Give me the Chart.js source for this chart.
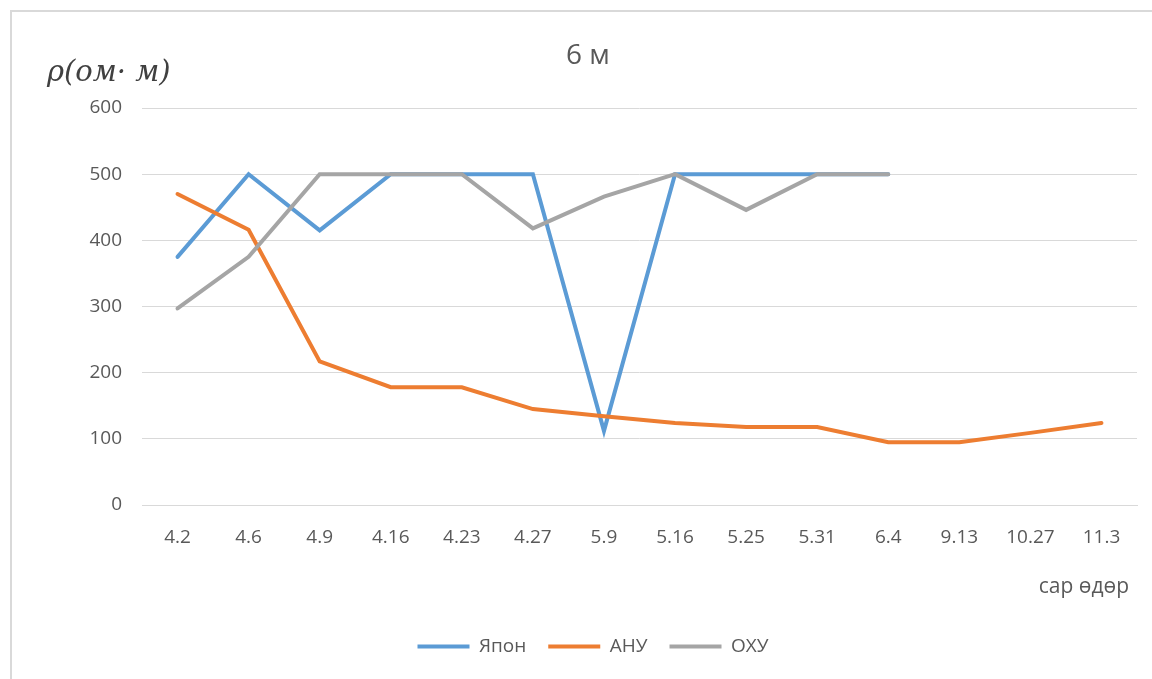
<!DOCTYPE html>
<html>
<head>
<meta charset="utf-8">
<script src="https://cdn.jsdelivr.net/npm/chart.js@4"></script>
<style>
  html, body { margin: 0; padding: 0; background: #ffffff; }
  #wrap { width: 1152px; height: 679px; position: relative; }
</style>
</head>
<body>
<div id="wrap"><canvas id="c" width="1152" height="679"></canvas></div>
<script>
const categories = ["4.2", "4.6", "4.9", "4.16", "4.23", "4.27", "5.9", "5.16", "5.25", "5.31", "6.4", "9.13", "10.27", "11.3"];
const japan = [375, 500, 415, 500, 500, 500, 112, 500, 500, 500, 500, null, null, null];
const usa = [470, 416, 217, 178, 178, 145, 134, 124, 118, 118, 95, 95, 109, 124];
const russia = [297, 375, 500, 500, 500, 418, 466, 500, 446, 500, 500, null, null, null];
const seriesNames = ["Япон", "АНУ", "ОХУ"];
const yTicks = [0, 100, 200, 300, 400, 500, 600];
const chartTitle = "6 м";
const yTitle = "ρ(ом· м)";
const xTitle = "сар өдөр";

const FONT = "'Open Sans', Lato, sans-serif";
const TXT = "#595959";
const GRID = "#d9d9d9";

const framePlugin = {
  id: "frame",
  beforeDraw(chart) {
    const ctx = chart.ctx;
    ctx.save();
    ctx.strokeStyle = GRID;
    ctx.lineWidth = 2;
    ctx.beginPath();
    ctx.moveTo(11, 679);
    ctx.lineTo(11, 11);
    ctx.lineTo(1152, 11);
    ctx.stroke();
    ctx.restore();
  },
  afterDraw(chart) {
    const ctx = chart.ctx;
    ctx.save();
    ctx.fillStyle = TXT;
    ctx.font = "28px " + FONT;
    ctx.textAlign = "center";
    ctx.textBaseline = "middle";
    ctx.fillText(chartTitle, 588, 56);
    ctx.font = "21px " + FONT;
    ctx.textAlign = "right";
    ctx.fillText(xTitle, 1129, 587);
    ctx.fillStyle = "#404040";
    ctx.font = "italic 29px 'DejaVu Serif', 'Liberation Serif', serif";
    ctx.textAlign = "left";
    ctx.textBaseline = "alphabetic";
    ctx.fillText(yTitle, 47, 81);
    ctx.restore();
  }
};

const colors = ["#5B9BD5", "#ED7D31", "#A5A5A5"];
const seriesData = [japan, usa, russia];
const drawOrder = [3, 2, 1];

new Chart(document.getElementById("c"), {
  type: "line",
  data: {
    labels: categories,
    datasets: seriesNames.map((n, i) => ({
      label: n,
      data: seriesData[i],
      order: drawOrder[i],
      borderColor: colors[i],
      backgroundColor: colors[i],
      borderWidth: 4,
      pointRadius: 0,
      pointHoverRadius: 0,
      tension: 0,
      spanGaps: false,
      borderCapStyle: "round",
      borderJoinStyle: "miter"
    }))
  },
  options: {
    responsive: false,
    animation: false,
    devicePixelRatio: 1,
    layout: { padding: { top: 108, right: 15, bottom: 13, left: 49 } },
    plugins: {
      title: { display: false },
      tooltip: { enabled: false },
      legend: {
        position: "bottom",
        labels: {
          color: TXT,
          font: { family: FONT, size: 19 },
          boxWidth: 52,
          boxHeight: 4,
          padding: 22,
          generateLabels(chart) {
            return chart.data.datasets.map((ds, i) => ({
              text: ds.label,
              fillStyle: ds.borderColor,
              strokeStyle: ds.borderColor,
              lineWidth: 0,
              fontColor: TXT,
              datasetIndex: i,
              hidden: false
            }));
          }
        }
      }
    },
    scales: {
      x: {
        offset: true,
        grid: { display: false, drawTicks: false, offset: true },
        border: { display: true, color: GRID, width: 1 },
        ticks: { color: TXT, font: { family: FONT, size: 19 }, padding: 21, maxRotation: 0, autoSkip: false },
        title: { display: false },
        afterFit(scale) { scale.height = 110; }
      },
      y: {
        min: 0, max: 600,
        grid: { color: GRID, lineWidth: 1, drawTicks: false },
        border: { display: false },
        ticks: {
          color: TXT, font: { family: FONT, size: 19 }, padding: 20, stepSize: 100,
          callback: (v) => yTicks.includes(v) ? String(v) : null
        },
        afterFit(scale) { scale.width = 93; }
      }
    }
  },
  plugins: [framePlugin]
});
</script>
</body>
</html>
